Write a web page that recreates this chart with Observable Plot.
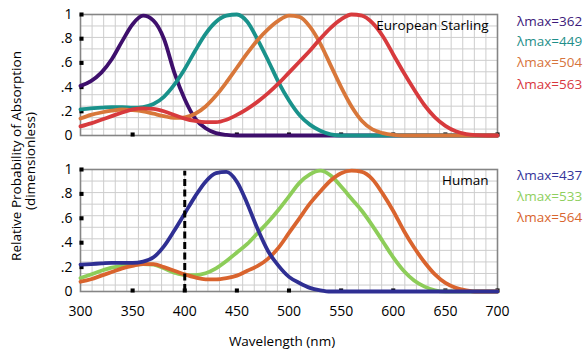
<!DOCTYPE html>
<html><head><meta charset="utf-8">
<script src="https://cdn.jsdelivr.net/npm/d3@7"></script>
<script src="https://cdn.jsdelivr.net/npm/@observablehq/plot@0.6"></script>
<style>
body{margin:0;background:#fff;}
#wrap{position:relative;width:588px;height:353px;font-family:"Open Sans",sans-serif;overflow:hidden;background:#fff}
.abs{position:absolute;white-space:nowrap;line-height:1}
.rot{position:absolute;white-space:nowrap;line-height:1;transform:translate(-50%,-50%) rotate(-90deg);font-size:13.5px;color:#000}
.leg{position:absolute;white-space:nowrap;line-height:1;font-size:13.5px;transform:translateY(-50%)}
</style></head><body><div id="wrap"></div>
<script>
// Wavelength samples (nm)
const wavelengths = [300,310,320,330,340,350,360,370,380,390,400,410,420,430,440,450,460,470,480,490,500,510,520,530,540,550,560,570,580,590,600,610,620,630,640,650,660,670,680,690,700];

// European Starling cone absorbance
const starling362 = [0.41,0.45,0.52,0.63,0.78,0.92,0.99,0.95,0.80,0.52,0.30,0.14,0.06,0.02,0.005,0,0,0,0,0,0,0,0,0,0,0,0,0,0,0,0,0,0,0,0,0,0,0,0,0,0];
const starling449 = [0.215,0.225,0.23,0.235,0.235,0.23,0.235,0.26,0.32,0.42,0.55,0.70,0.84,0.94,0.99,1.0,0.94,0.79,0.62,0.44,0.29,0.17,0.09,0.04,0.01,0,0,0,0,0,0,0,0,0,0,0,0,0,0,0,0];
const starling504 = [0.14,0.17,0.19,0.205,0.215,0.21,0.20,0.18,0.16,0.145,0.15,0.18,0.24,0.33,0.44,0.56,0.68,0.79,0.88,0.95,0.99,0.98,0.90,0.76,0.58,0.40,0.24,0.12,0.05,0.02,0.005,0,0,0,0,0,0,0,0,0,0];
const starling563 = [0.075,0.10,0.13,0.16,0.19,0.215,0.225,0.22,0.20,0.17,0.14,0.12,0.11,0.11,0.13,0.17,0.22,0.28,0.35,0.43,0.52,0.61,0.70,0.80,0.89,0.96,1.0,0.99,0.93,0.82,0.67,0.52,0.38,0.25,0.15,0.08,0.035,0.012,0.003,0,0];

// Human cone absorbance
const human437 = [0.22,0.225,0.23,0.235,0.235,0.235,0.245,0.28,0.37,0.50,0.64,0.78,0.90,0.97,0.98,0.90,0.72,0.51,0.33,0.21,0.12,0.07,0.03,0.01,0,0,0,0,0,0,0,0,0,0,0,0,0,0,0,0,0];
const human533 = [0.11,0.14,0.17,0.195,0.21,0.22,0.225,0.22,0.19,0.155,0.135,0.135,0.15,0.19,0.25,0.32,0.39,0.48,0.57,0.67,0.78,0.89,0.96,0.99,0.95,0.86,0.76,0.66,0.54,0.41,0.28,0.17,0.09,0.04,0.01,0,0,0,0,0,0];
const human564 = [0.08,0.10,0.13,0.16,0.19,0.21,0.225,0.225,0.20,0.17,0.14,0.115,0.10,0.10,0.11,0.13,0.17,0.21,0.27,0.36,0.48,0.60,0.72,0.82,0.91,0.97,0.99,0.98,0.92,0.80,0.66,0.50,0.36,0.24,0.14,0.07,0.03,0.01,0,0,0];

const starlingLabels = ["λmax=362","λmax=449","λmax=504","λmax=563"];
const humanLabels = ["λmax=437","λmax=533","λmax=564"];
const starlingColors = ["#3e0f6c","#19928b","#d8773a","#d73a3d"];
const humanColors = ["#8dcd59","#d9642e","#2f2f93"]; // draw order: 533, 564, 437
const starlingLegendColors = ["#3d1a7a","#1f8f8a","#d7743c","#d8383e"];
const humanLegendColors = ["#34349a","#8fcf5e","#d9652e"];

const xTicks = [300,350,400,450,500,550,600,650,700];
const yTicks = [0,0.2,0.4,0.6,0.8,1];
const yTickLabels = ["0",".2",".4",".6",".8","1"];
const dashedAt = [400];

const gridX = d3.range(1,36).map(i => 300 + i*400/36);
const gridY = d3.range(1,11).map(i => 1 - i*0.0947);

function toRows(arr){ return wavelengths.map((w,i)=>({wl:w, v:arr[i]})); }

function panel({series, colors, name, height, marginBottom, showX, squaresX, dashed}) {
  const marks = [
    Plot.ruleX(gridX, {stroke:"#cdcdcd", strokeWidth:1}),
    Plot.ruleY(gridY, {stroke:"#cdcdcd", strokeWidth:1}),
    Plot.frame({stroke:"#858585", strokeWidth:1.6}),
    Plot.dot(squaresX, {x:d=>d, y:0, symbol:"square", r:2.3, fill:"black", dy:-1}),
    Plot.dot(yTicks.filter(d=>d>0), {x:300, y:d=>d, symbol:"square", r:2.3, fill:"black", dx:1}),
    ...series.map((s,i)=>Plot.line(toRows(s), {x:"wl", y:"v", stroke:colors[i], strokeWidth:3.8, curve:"monotone-x"})),
    Plot.text([name], {frameAnchor:"top-right", dx:-9, dy:6, lineAnchor:"top", fontSize:13.5, fill:"#000"})
  ];
  if (dashed) marks.push(Plot.ruleX(dashed, {y1:0, y2:0.985, stroke:"black", strokeWidth:3, strokeDasharray:"7,3.5"}));
  return Plot.plot({
    width:588, height,
    marginLeft:80, marginRight:91, marginTop:14, marginBottom,
    style:{fontFamily:"'Open Sans',sans-serif", fontSize:"14px", color:"#000", background:"transparent", overflow:"visible"},
    x:{domain:[300,700], ticks: showX ? xTicks : [], tickSize:0, tickPadding:15, label:null, axis: showX ? "bottom" : null},
    y:{domain:[0,1], ticks:yTicks, tickSize:0, tickPadding:8, tickFormat:d=>yTickLabels[yTicks.indexOf(d)], label:null},
    marks
  });
}

const wrap = document.getElementById("wrap");
const top1 = panel({series:[starling362,starling449,starling504,starling563], colors:starlingColors, name:"European Starling", height:150, marginBottom:15, showX:false, squaresX:[350,450,500,550,600,650,700]});
top1.style.position="absolute"; top1.style.left="0px"; top1.style.top="0px";
wrap.appendChild(top1);
const bot = panel({series:[human533,human564,human437], colors:humanColors, name:"Human", height:198, marginBottom:62, showX:true, squaresX:[350,400,450,500,550,600,650,700], dashed:dashedAt});
bot.style.position="absolute"; bot.style.left="0px"; bot.style.top="155px";
wrap.appendChild(bot);

function addDiv(cls, text, css){ const d=document.createElement("div"); d.className=cls; d.textContent=text; Object.assign(d.style, css); wrap.appendChild(d); return d; }

addDiv("rot","Relative Probability of Absorption",{left:"17px",top:"156px"});
addDiv("rot","(dimensionless)",{left:"31px",top:"161px"});
addDiv("abs","Wavelength (nm)",{left:"282px",top:"342px",fontSize:"13.5px",transform:"translate(-50%,-50%)",color:"#000"});

const legTopY = [21.5,42,63,85];
starlingLabels.forEach((t,i)=>addDiv("leg",t,{left:"517px",top:legTopY[i]+"px",color:starlingLegendColors[i]}));
const legBotY = [176,197,218];
humanLabels.forEach((t,i)=>addDiv("leg",t,{left:"517px",top:legBotY[i]+"px",color:humanLegendColors[i]}));
</script></body></html>
